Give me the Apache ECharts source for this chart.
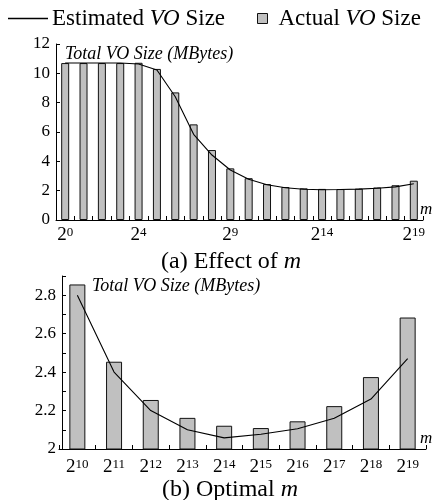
<!DOCTYPE html>
<html>
<head>
<meta charset="utf-8">
<script src="https://cdn.jsdelivr.net/npm/echarts@6/dist/echarts.min.js"></script>
<style>html,body{margin:0;padding:0;background:#fff;}#c{width:434px;height:500px;}</style>
</head>
<body>
<div id="c"></div>
<script>
// ---- data ----
const expsTop = ['0','1','2','3','4','5','6','7','8','9','10','11','12','13','14','15','16','17','18','19'];
const shownTopLabels = ['0','4','9','14','19'];
const actualTop = [10.7,10.7,10.7,10.7,10.72,10.3,8.7,6.52,4.77,3.52,2.85,2.45,2.25,2.16,2.12,2.11,2.14,2.22,2.37,2.68];
const estimatedTop = [10.7,10.7,10.7,10.7,10.64,10.23,8.4,5.84,4.43,3.41,2.78,2.40,2.20,2.10,2.058,2.077,2.105,2.16,2.26,2.47];

const expsBottom = ['10','11','12','13','14','15','16','17','18','19'];
const actualBottom = [2.856,2.454,2.255,2.162,2.121,2.109,2.144,2.223,2.374,2.684];
const estimatedBottom = [2.80,2.40,2.20,2.10,2.058,2.077,2.105,2.16,2.26,2.47];

const yTopTicks = {min:0, max:12, interval:2};
const yBottomTicks = {min:2, max:2.9, interval:0.1};

// ---- styles ----
const FF = 'Liberation Serif';
const BLACK = '#000';
const BAR_FILL = '#c0c0c0';
const BAR_EDGE = '#111';

const supRich = {
  b: {fontFamily: FF, fontSize: 19, color: BLACK, lineHeight: 19},
  s: {fontFamily: FF, fontSize: 13, color: BLACK, verticalAlign: 'top', lineHeight: 13}
};

function xAxisCfg(grid, data, labelInterval, margin, nameGap) {
  return {
    type: 'category', gridIndex: grid, data: data, boundaryGap: true,
    axisLine: {show: true, lineStyle: {color: BLACK, width: 1}},
    axisTick: {show: true, inside: true, length: 4, interval: 0, lineStyle: {color: BLACK, width: 1}},
    axisLabel: {interval: labelInterval, margin: margin, formatter: v => '{b|2}{s|' + v + '}', rich: supRich},
    splitLine: {show: false},
    name: 'm', nameLocation: 'end', nameGap: nameGap,
    nameTextStyle: {fontFamily: FF, fontStyle: 'italic', fontSize: 17, color: BLACK, verticalAlign: 'bottom', align: 'left', padding: [0,0,2,0]}
  };
}

function yAxisCfg(grid, ticks, fmt, namePadLeft, nameGap, offset) {
  return {
    type: 'value', gridIndex: grid, min: ticks.min, max: ticks.max, interval: ticks.interval, offset: offset,
    axisLine: {show: true, lineStyle: {color: BLACK, width: 1}},
    axisTick: {show: true, inside: true, length: 4, lineStyle: {color: BLACK, width: 1}},
    axisLabel: {fontFamily: FF, fontSize: 17, color: BLACK, margin: 6, formatter: fmt, showMaxLabel: true, showMinLabel: true},
    splitLine: {show: false},
    name: 'Total VO Size (MBytes)', nameLocation: 'end', nameGap: nameGap,
    nameTextStyle: {fontFamily: FF, fontStyle: 'italic', fontSize: 18, color: BLACK, align: 'left', verticalAlign: 'top', padding: [0,0,0,namePadLeft]}
  };
}

const chart = echarts.init(document.getElementById('c'), null, {renderer: 'canvas'});
const option = {
  backgroundColor: '#fff',
  animation: false,
  title: [
    {text: '(a) Effect of {i|m}', left: 161, top: 250, padding: 0,
     textStyle: {fontFamily: FF, fontSize: 24, fontWeight: 'normal', color: BLACK,
       rich: {i: {fontFamily: FF, fontSize: 24, fontStyle: 'italic', color: BLACK}}}},
    {text: '(b) Optimal {i|m}', left: 162, top: 478, padding: 0,
     textStyle: {fontFamily: FF, fontSize: 24, fontWeight: 'normal', color: BLACK,
       rich: {i: {fontFamily: FF, fontSize: 24, fontStyle: 'italic', color: BLACK}}}}
  ],
  legend: [
    {data: [{name: 'Estimated', icon: 'rect'}], left: 8, top: 7, itemWidth: 40, itemHeight: 1.3, padding: 0,
     itemStyle: {color: BLACK, borderWidth: 0},
     formatter: () => 'Estimated {i|VO} Size',
     textStyle: {fontFamily: FF, fontSize: 23, color: BLACK, padding: [0,0,0,-1],
       rich: {i: {fontFamily: FF, fontSize: 23, fontStyle: 'italic', color: BLACK}}}},
    {data: [{name: 'Actual', icon: 'rect'}], left: 257, top: 7, itemWidth: 10, itemHeight: 10, padding: 0,
     itemStyle: {color: BAR_FILL, borderColor: BAR_EDGE, borderWidth: 1},
     formatter: () => 'Actual {i|VO} Size',
     textStyle: {fontFamily: FF, fontSize: 23, color: BLACK, padding: [0,0,0,6],
       rich: {i: {fontFamily: FF, fontSize: 23, fontStyle: 'italic', color: BLACK}}}}
  ],
  grid: [
    {left: 56, top: 44, width: 367, height: 176},
    {left: 59, top: 276, width: 367, height: 173}
  ],
  xAxis: [
    xAxisCfg(0, expsTop, (i, v) => shownTopLabels.indexOf(v) >= 0, 6, -3),
    xAxisCfg(1, expsBottom, 0, 9, -6)
  ],
  yAxis: [
    yAxisCfg(0, yTopTicks, v => String(v), 9, -1, 0),
    yAxisCfg(1, yBottomTicks, v => {
      const k = Math.round(v * 10);
      if (k % 2 !== 0) return '';
      return k === 20 ? '2' : (k / 10).toFixed(1);
    }, 30, -1, -3)
  ],
  series: [
    {name: 'Actual', type: 'bar', xAxisIndex: 0, yAxisIndex: 0, data: actualTop, barWidth: 8,
     itemStyle: {color: BAR_FILL, borderColor: BAR_EDGE, borderWidth: 1}, z: 2},
    {name: 'Estimated', type: 'line', xAxisIndex: 0, yAxisIndex: 0, data: estimatedTop, symbol: 'none',
     lineStyle: {color: BLACK, width: 1.1}, itemStyle: {color: BLACK}, z: 3},
    {name: 'Actual', type: 'bar', xAxisIndex: 1, yAxisIndex: 1, data: actualBottom, barWidth: 16,
     itemStyle: {color: BAR_FILL, borderColor: BAR_EDGE, borderWidth: 1}, z: 2},
    {name: 'Estimated', type: 'line', xAxisIndex: 1, yAxisIndex: 1, data: estimatedBottom, symbol: 'none',
     lineStyle: {color: BLACK, width: 1.1}, itemStyle: {color: BLACK}, z: 3}
  ]
};
chart.setOption(option);
</script>
</body>
</html>
